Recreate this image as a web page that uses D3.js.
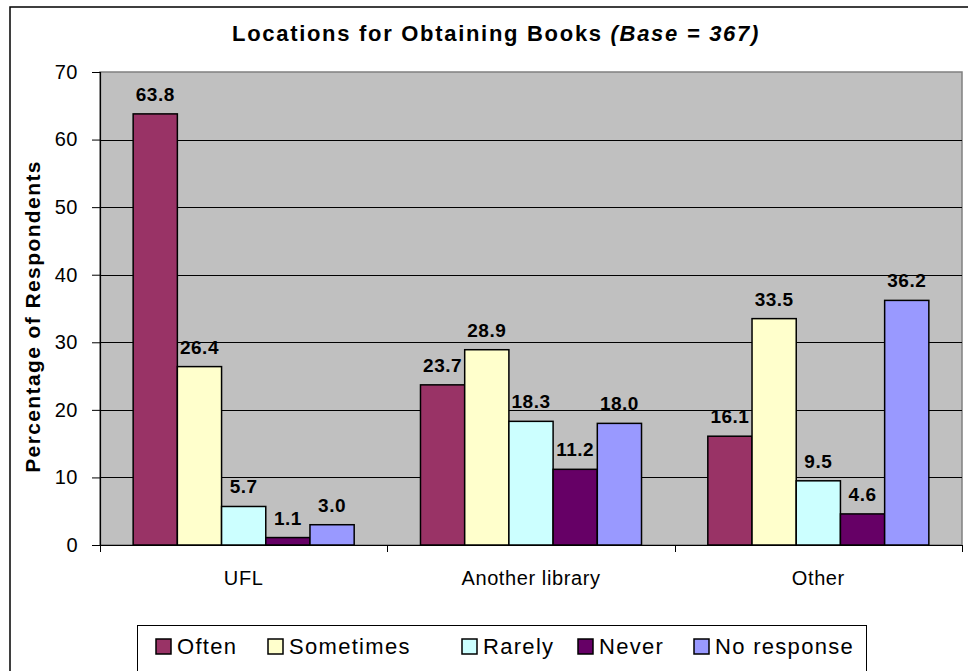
<!DOCTYPE html>
<html>
<head>
<meta charset="utf-8">
<script src="https://cdn.jsdelivr.net/npm/d3@7"></script>
<style>
  body { margin: 0; background: #fff; }
  text { font-family: "Liberation Sans", Arial, sans-serif; }
</style>
</head>
<body>
<div id="container"></div>
<script>
// chart data
const categories = ["UFL", "Another library", "Other"];
const seriesNames = ["Often", "Sometimes", "Rarely", "Never", "No response"];
const seriesColors = ["#993366", "#FFFFCC", "#CCFFFF", "#660066", "#9999FF"];
const often = [63.8, 23.7, 16.1];
const sometimes = [26.4, 28.9, 33.5];
const rarely = [5.7, 18.3, 9.5];
const never = [1.1, 11.2, 4.6];
const noResponse = [3.0, 18.0, 36.2];
const yTicks = [0, 10, 20, 30, 40, 50, 60, 70];

const seriesValues = [often, sometimes, rarely, never, noResponse];

const width = 968, height = 671;
const plot = {left: 100, right: 962, top: 72, bottom: 545};

const svg = d3.select("#container").append("svg")
  .attr("width", width)
  .attr("height", height);

// outer chart frame (runs off the right and bottom edges)
svg.append("rect")
  .attr("x", 10).attr("y", 7)
  .attr("width", 980).attr("height", 700)
  .attr("fill", "#fff")
  .attr("stroke", "#000")
  .attr("stroke-width", 1.5);

const x0 = d3.scaleBand(categories, [plot.left, plot.right]);
const x1 = d3.scaleBand(seriesNames, [0, x0.bandwidth()]).paddingOuter(0.75);
const y = d3.scaleLinear([0, 70], [plot.bottom, plot.top]);

// plot background
svg.append("rect")
  .attr("x", plot.left).attr("y", plot.top)
  .attr("width", plot.right - plot.left)
  .attr("height", plot.bottom - plot.top)
  .attr("fill", "#C0C0C0")
  .attr("stroke", "#808080")
  .attr("stroke-width", 1.5);

// gridlines
svg.append("g")
  .selectAll("line")
  .data(yTicks.filter(d => d > 0 && d < 70))
  .join("line")
  .attr("x1", plot.left).attr("x2", plot.right)
  .attr("y1", d => Math.round(y(d)) + 0.5)
  .attr("y2", d => Math.round(y(d)) + 0.5)
  .attr("stroke", "#000")
  .attr("stroke-width", 1);

// y axis
const yAxis = svg.append("g")
  .attr("transform", `translate(${plot.left},0)`)
  .call(d3.axisLeft(y).tickValues(yTicks).tickSize(8).tickPadding(14).tickFormat(d3.format("d")));
yAxis.select(".domain").attr("stroke", "#000").attr("stroke-width", 1.2);
yAxis.selectAll(".tick line").attr("stroke", "#000");
yAxis.selectAll("text")
  .attr("font-size", 20)
  .attr("fill", "#000")
  .attr("letter-spacing", 0.5)
  .attr("font-family", "Liberation Sans, Arial, sans-serif");

// x axis
const xAxis = svg.append("g")
  .attr("transform", `translate(0,${plot.bottom})`)
  .call(d3.axisBottom(x0).tickSize(0).tickPadding(26));
xAxis.select(".domain").attr("stroke", "#000").attr("stroke-width", 1.2);
xAxis.selectAll("text")
  .attr("font-size", 20)
  .attr("fill", "#000")
  .attr("letter-spacing", 0.6)
  .attr("font-family", "Liberation Sans, Arial, sans-serif");

// category boundary ticks
svg.append("g")
  .selectAll("line")
  .data(categories.concat([null]))
  .join("line")
  .attr("x1", (d, i) => Math.round(plot.left + i * x0.step()) + 0.5)
  .attr("x2", (d, i) => Math.round(plot.left + i * x0.step()) + 0.5)
  .attr("y1", plot.bottom)
  .attr("y2", plot.bottom + 7)
  .attr("stroke", "#000");

// bars
const bars = [];
categories.forEach((c, ci) => {
  seriesNames.forEach((s, si) => {
    bars.push({cat: c, series: s, color: seriesColors[si], value: seriesValues[si][ci]});
  });
});

const barG = svg.append("g");
barG.selectAll("rect")
  .data(bars)
  .join("rect")
  .attr("x", d => x0(d.cat) + x1(d.series))
  .attr("y", d => y(d.value))
  .attr("width", x1.bandwidth())
  .attr("height", d => y(0) - y(d.value))
  .attr("fill", d => d.color)
  .attr("stroke", "#000")
  .attr("stroke-width", 1.5);

barG.selectAll("text")
  .data(bars)
  .join("text")
  .attr("x", d => x0(d.cat) + x1(d.series) + x1.bandwidth() / 2)
  .attr("y", d => y(d.value) - 13)
  .attr("text-anchor", "middle")
  .attr("font-size", 19)
  .attr("font-weight", "bold")
  .attr("letter-spacing", 0.5)
  .text(d => d.value.toFixed(1));

// title
const title = svg.append("text")
  .attr("x", 496)
  .attr("y", 41)
  .attr("text-anchor", "middle")
  .attr("font-size", 22)
  .attr("font-weight", "bold")
  .attr("letter-spacing", 1.7);
title.append("tspan").text("Locations for Obtaining Books ");
title.append("tspan").attr("font-style", "italic").text("(Base = 367)");

// y axis title
svg.append("text")
  .attr("transform", `translate(40,${(plot.top + plot.bottom) / 2 + 8}) rotate(-90)`)
  .attr("text-anchor", "middle")
  .attr("font-size", 21)
  .attr("font-weight", "bold")
  .attr("letter-spacing", 1.4)
  .text("Percentage of Respondents");

// legend
const legend = svg.append("g").attr("transform", "translate(137,625)");
legend.append("rect")
  .attr("x", 0.5).attr("y", 0.5)
  .attr("width", 729).attr("height", 60)
  .attr("fill", "#fff")
  .attr("stroke", "#000");

const legendX = [19, 131, 325, 441, 557];
const item = legend.selectAll("g.item")
  .data(seriesNames)
  .join("g")
  .attr("class", "item")
  .attr("transform", (d, i) => `translate(${legendX[i]},0)`);
item.append("rect")
  .attr("x", 0).attr("y", 14)
  .attr("width", 15).attr("height", 15)
  .attr("fill", (d, i) => seriesColors[i])
  .attr("stroke", "#000")
  .attr("stroke-width", 1.5);
item.append("text")
  .attr("x", 21)
  .attr("y", 29)
  .attr("font-size", 22)
  .attr("letter-spacing", 1.3)
  .text(d => d);
</script>
</body>
</html>
